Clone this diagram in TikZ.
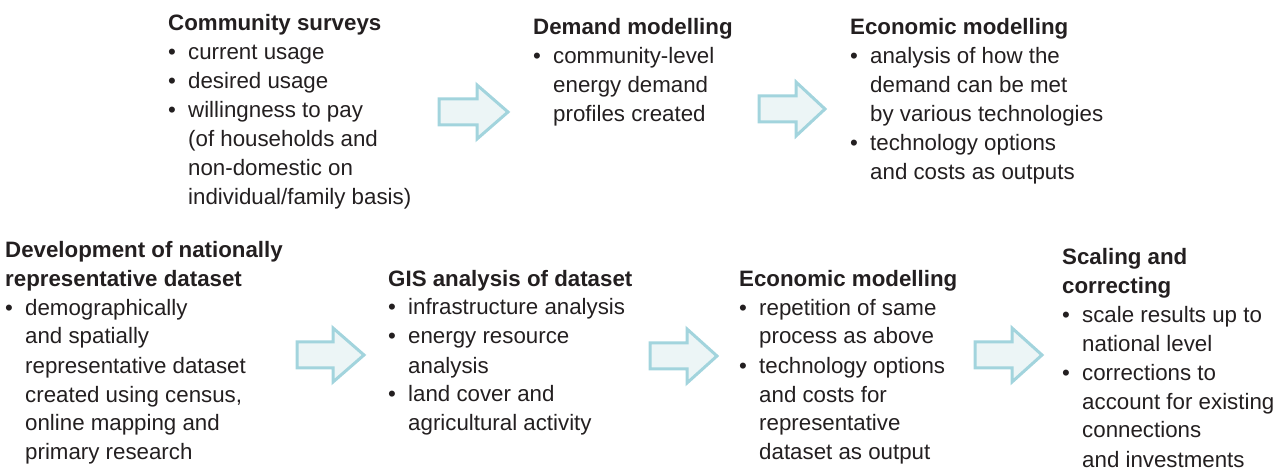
\documentclass[tikz,border=0pt]{standalone}
\usepackage{fontspec}
\setmainfont{Liberation Sans}
\usepackage{tikz}

\definecolor{txtdark}{HTML}{231F20}
\definecolor{arrline}{HTML}{A2D4DD}
\definecolor{arrfill}{HTML}{ECF5F6}

\newcommand{\bul}{\makebox[20pt][l]{\textbullet}}
\newcommand{\ind}{\hspace*{20pt}}

\tikzset{
  block/.style={anchor=base west, inner sep=0pt, align=left, text=txtdark,
    font=\fontsize{22.3}{29}\selectfont},
  flowarr/.style={draw=arrline, fill=arrfill, line width=3pt, line join=miter}
}

\begin{document}
\begin{tikzpicture}[x=1pt,y=-1pt]
      \useasboundingbox (0,0) rectangle (1278,470);
      % top row (anchored at the baseline of the last line)
      \node[block] (survey) at (168,205) {\textbf{Community surveys}\\
        \bul current usage\\
        \bul desired usage\\
        \bul willingness to pay\\
        \ind (of households and\\
        \ind non-domestic on\\
        \ind individual/family basis)};
      \node[block] (demand) at (533,122) {\textbf{Demand modelling}\\
        \bul community-level\\
        \ind energy demand\\
        \ind profiles created};
      \node[block] (econ) at (850,180) {\textbf{Economic modelling}\\
        \bul analysis of how the\\
        \ind demand can be met\\
        \ind by various technologies\\
        \bul technology options\\
        \ind and costs as outputs};
      % bottom row
      \node[block] (dataset) at (5,460) {\textbf{Development of nationally}\\
        \textbf{representative dataset}\\
        \bul demographically\\
        \ind and spatially\\
        \ind representative dataset\\
        \ind created using census,\\
        \ind online mapping and\\
        \ind primary research};
      \node[block] (gis) at (388,431) {\textbf{GIS analysis of dataset}\\
        \bul infrastructure analysis\\
        \bul energy resource\\
        \ind analysis\\
        \bul land cover and\\
        \ind agricultural activity};
      \node[block] (econtwo) at (739,460) {\textbf{Economic modelling}\\
        \bul repetition of same\\
        \ind process as above\\
        \bul technology options\\
        \ind and costs for\\
        \ind representative\\
        \ind dataset as output};
      \node[block] (scaling) at (1062,467) {\textbf{Scaling and}\\
        \textbf{correcting}\\
        \bul scale results up to\\
        \ind national level\\
        \bul corrections to\\
        \ind account for existing\\
        \ind connections\\
        \ind and investments};
      % block arrows
      \draw[flowarr] (439,99) -- (477,99) -- (477,85) -- (508,112) -- (477,139) -- (477,125) -- (439,125) -- cycle;
      \draw[flowarr] (759,96) -- (796,96) -- (796,82) -- (825,109) -- (796,136) -- (796,122) -- (759,122) -- cycle;
      \draw[flowarr] (297,342) -- (333,342) -- (333,328) -- (364,355) -- (333,382) -- (333,368) -- (297,368) -- cycle;
      \draw[flowarr] (650,343) -- (687,343) -- (687,329) -- (717,356) -- (687,383) -- (687,369) -- (650,369) -- cycle;
      \draw[flowarr] (975,342) -- (1012,342) -- (1012,328) -- (1042,355) -- (1012,382) -- (1012,368) -- (975,368) -- cycle;
    \end{tikzpicture}
\end{document}
